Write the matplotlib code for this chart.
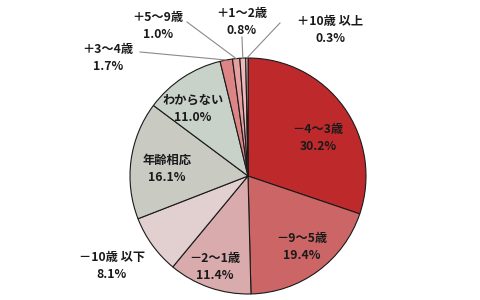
import matplotlib
matplotlib.use("Agg")
import matplotlib.pyplot as plt
import numpy as np

plt.rcParams['font.family'] = ['Noto Sans CJK JP', 'DejaVu Sans']

categories = ["－4〜3歳", "－9〜5歳", "－2〜1歳", "－10歳 以下", "年齢相応",
              "わからない", "＋3〜4歳", "＋5〜9歳", "＋1〜2歳", "＋10歳 以上"]
values = [30.2, 19.4, 11.4, 8.1, 16.1, 11.0, 1.7, 1.0, 0.8, 0.3]
colors = ["#BE2A2B", "#CC6666", "#D9ABAC", "#E2CFD0", "#C9CAC2",
          "#C8D2C9", "#DD8486", "#E6A0A2", "#EFB9BA", "#F6D5D6"]

# label layout (data coords, pie radius = 1)
label_pos = [(0.593, 0.322), (0.458, -0.602), (-0.280, -0.771), (-1.153, -0.763),
             (-0.686, 0.059), (-0.466, 0.568), (-1.186, 1.0), (-0.763, 1.271),
             (-0.051, 1.305), (0.695, 1.237)]
leader_start = {6: (-0.915, 1.051), 7: (-0.517, 1.305), 8: (-0.051, 1.178), 9: (0.271, 1.297)}

fig = plt.figure(figsize=(4.8, 3.0), dpi=100)
ax = fig.add_axes([130/480, 6/300, 236/480, 236/300])
wedges, _ = ax.pie(values, colors=colors, startangle=90, counterclock=False,
                   radius=1.0, wedgeprops=dict(edgecolor="#1a1a1a", linewidth=0.8))
ax.set_xlim(-1, 1)
ax.set_ylim(-1, 1)
ax.set_aspect('equal')
ax.axis('off')

for i, (cat, v) in enumerate(zip(categories, values)):
    x, y = label_pos[i]
    ax.text(x, y, f"{cat}\n{v:.1f}%", ha='center', va='center', fontsize=8.8,
            fontweight='bold', color='#1a1a1a', linespacing=1.45, clip_on=False)
    if i in leader_start:
        w = wedges[i]
        mid = np.deg2rad((w.theta1 + w.theta2) / 2)
        ex, ey = np.cos(mid), np.sin(mid)
        sx, sy = leader_start[i]
        ax.plot([sx, ex], [sy, ey], color='#8a8a8a', lw=0.8, clip_on=False)

fig.savefig("out.png", dpi=100, facecolor='white')
